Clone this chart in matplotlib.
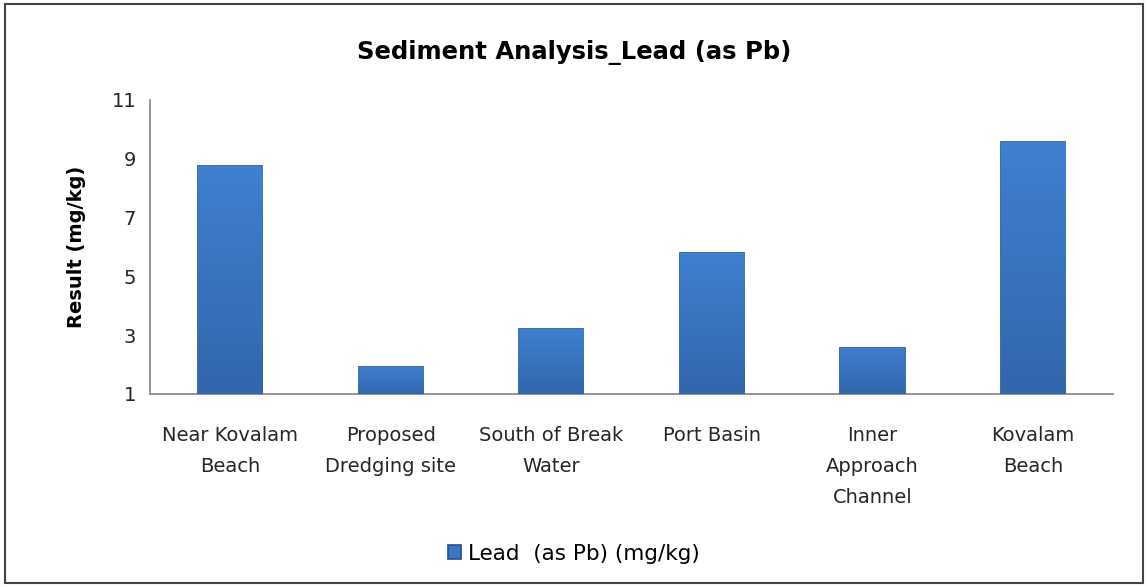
import numpy as np
import matplotlib.pyplot as plt
from matplotlib.patches import Rectangle

sites = ['Near Kovalam\nBeach', 'Proposed\nDredging site', 'South of Break\nWater',
         'Port Basin', 'Inner\nApproach\nChannel', 'Kovalam\nBeach']
lead = [8.76, 1.93, 3.22, 5.8, 2.57, 9.56]
yticks = [1, 3, 5, 7, 9, 11]

plt.rcParams['font.family'] = ['DejaVu Sans']

fig = plt.figure(figsize=(11.48, 5.87), dpi=100)
ax = fig.add_axes([0.1307, 0.329, 0.839, 0.501])

x = np.arange(len(sites))
bars = ax.bar(x, np.array(lead) - 1, bottom=1, width=0.4, color='#3b78c6',
              edgecolor='#24508a', linewidth=1.2, label='Lead  (as Pb) (mg/kg)', zorder=3)

# simple vertical shading to mimic the bevelled bars
grad = np.linspace(0, 1, 256).reshape(-1, 1)
cmap = plt.matplotlib.colors.LinearSegmentedColormap.from_list('b', ['#3266ac', '#3f80d0'])
for b in bars:
    x0, y0, w, h = b.get_x(), b.get_y(), b.get_width(), b.get_height()
    im = ax.imshow(grad, extent=[x0, x0 + w, y0, y0 + h], origin='lower', aspect='auto',
                   cmap=cmap, zorder=3.5)
    im.set_clip_path(b)

ax.set_xlim(-0.5, len(sites) - 0.5)
ax.set_ylim(1, 11)
ax.set_yticks(yticks)
ax.set_xticks(x)
ax.set_xticklabels(sites, fontsize=14, color='#262626', linespacing=1.8)
ax.tick_params(axis='y', labelsize=14, length=0, pad=10, colors='#262626')
ax.tick_params(axis='x', length=0, pad=23)
for s in ['top', 'right']:
    ax.spines[s].set_visible(False)
for s in ['left', 'bottom']:
    ax.spines[s].set_color('#8c8c8c')
    ax.spines[s].set_linewidth(1.3)

ax.set_ylabel('Result (mg/kg)', fontsize=14, fontweight='bold', labelpad=18)
fig.text(0.5, 0.91, 'Sediment Analysis_Lead (as Pb)', ha='center', va='center',
         fontsize=17.5, fontweight='bold')

leg = ax.legend(loc='center', bbox_to_anchor=(0.5, 0.057), bbox_transform=fig.transFigure,
                frameon=False, fontsize=15.5, handlelength=0.6, handleheight=0.6,
                handletextpad=0.3)

fig.patches.append(Rectangle((0.004, 0.006), 0.992, 0.988, transform=fig.transFigure,
                             fill=False, edgecolor='#444444', linewidth=1.5))

fig.savefig('out.png', dpi=100)
